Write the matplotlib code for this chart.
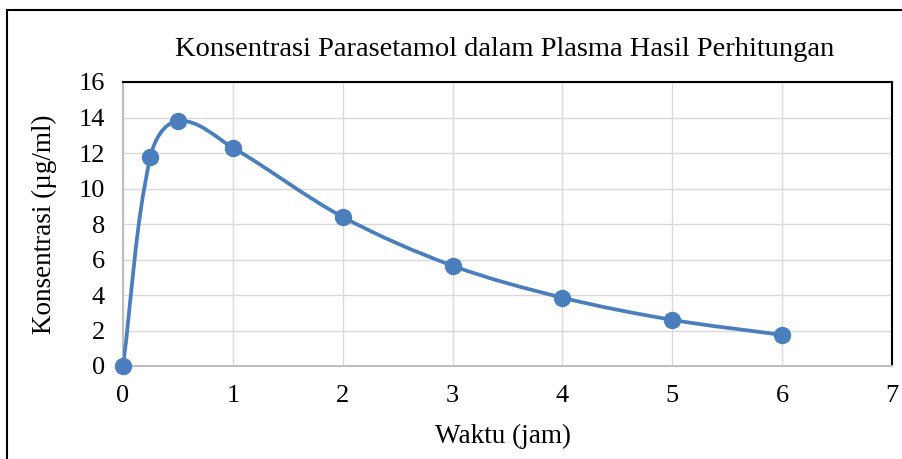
import numpy as np
import matplotlib.pyplot as plt
from matplotlib.path import Path
from matplotlib.patches import PathPatch
from matplotlib.lines import Line2D

plt.rcParams['font.family'] = ['Liberation Serif', 'DejaVu Serif']

waktu = [0, 0.25, 0.5, 1, 2, 3, 4, 5, 6]
konsentrasi = [0, 11.8, 13.8, 12.3, 8.4, 5.65, 3.85, 2.6, 1.75]
blue = '#4A7EBD'


def smooth_path(ax, xs, ys):
    # smoothed line like Excel: bezier segments built in pixel space
    pts = ax.transData.transform(np.column_stack([xs, ys]))
    n = len(pts)
    verts = [pts[0]]
    codes = [Path.MOVETO]
    tangents = []
    for i in range(n):
        a = pts[max(i - 1, 0)]
        b = pts[min(i + 1, n - 1)]
        d = b - a
        tangents.append(d / np.hypot(*d))
    for i in range(n - 1):
        p1, p2 = pts[i], pts[i + 1]
        L = np.hypot(*(p2 - p1)) / 3
        verts += [p1 + tangents[i] * L, p2 - tangents[i + 1] * L, p2]
        codes += [Path.CURVE4] * 3
    verts = ax.transData.inverted().transform(np.array(verts))
    return Path(verts, codes)


fig = plt.figure(figsize=(9.02, 4.59), dpi=100)
ax = fig.add_axes([123 / 902, 1 - 366 / 459, (892 - 123) / 902, (366 - 82) / 459])

ax.set_xlim(0, 7)
ax.set_ylim(0, 16)
ax.set_xticks(range(0, 8))
ax.set_yticks(range(0, 17, 2))
ax.grid(True, color='#D9D9D9', linewidth=1)
ax.set_axisbelow(True)
ax.tick_params(length=0, labelsize=19)
ax.tick_params(axis='y', pad=13)
ax.tick_params(axis='x', pad=14)

for s in ['left', 'bottom']:
    ax.spines[s].set_color('#BFBFBF')
    ax.spines[s].set_linewidth(1.5)
for s in ['top', 'right']:
    ax.spines[s].set_color('black')
    ax.spines[s].set_linewidth(1.5)

ax.add_patch(PathPatch(smooth_path(ax, waktu, konsentrasi), facecolor='none',
                       edgecolor=blue, linewidth=2.7, zorder=3))
ax.plot(waktu, konsentrasi, 'o', color=blue, markersize=11.5, zorder=4, clip_on=False)

fig.text(505 / 902, 1 - 50 / 459, 'Konsentrasi Parasetamol dalam Plasma Hasil Perhitungan',
         ha='center', va='center', fontsize=20.5)
fig.text(503 / 902, 1 - 436 / 459, 'Waktu (jam)', ha='center', va='center', fontsize=19.5)
fig.text(44 / 902, 1 - 224 / 459, 'Konsentrasi (µg/ml)', ha='center', va='center',
         fontsize=19.5, rotation=90)

# outer chart frame (only left and top visible in the crop)
fig.add_artist(Line2D([7 / 902, 7 / 902], [0, 1 - 10 / 459], color='black', linewidth=1.5))
fig.add_artist(Line2D([7 / 902, 1], [1 - 10 / 459, 1 - 10 / 459], color='black', linewidth=1.5))

fig.savefig('out.png', dpi=100)
